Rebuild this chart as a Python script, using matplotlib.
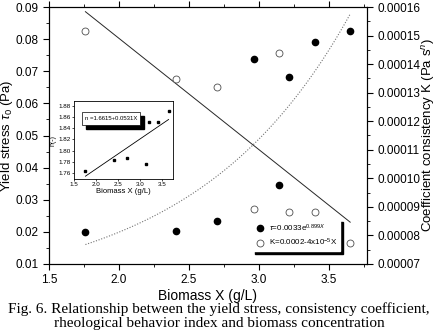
import numpy as np
import matplotlib.pyplot as plt
from matplotlib.ticker import MultipleLocator

plt.rcParams['font.family'] = ['Liberation Sans', 'DejaVu Sans']
plt.rcParams['mathtext.fontset'] = 'custom'
plt.rcParams['mathtext.rm'] = 'Liberation Sans'
plt.rcParams['mathtext.it'] = 'Liberation Sans:italic'

# biomass concentrations (g/L)
biomass = [1.76, 2.41, 2.70, 2.96, 3.14, 3.21, 3.40, 3.65]
# yield stress tau0 (Pa), left axis
yield_stress = [0.0199, 0.0203, 0.0233, 0.0738, 0.0346, 0.0682, 0.0791, 0.0825]
# consistency coefficient K (Pa s^n), right axis
consistency = [0.0001516, 0.0001348, 0.0001320, 0.0000893, 0.0001439,
               0.0000882, 0.0000882, 0.0000774]

# flow behaviour index n (inset)
n_biomass = [1.76, 2.41, 2.70, 3.14, 3.21, 3.40, 3.65]
n_index = [1.765, 1.784, 1.787, 1.776, 1.851, 1.851, 1.870]

# fitted models
tau_A, tau_b = 0.0033, 0.899
K_a, K_b = 0.000227, -3.9e-5
n_a, n_b = 1.6615, 0.0531

fig = plt.figure(figsize=(4.38, 3.32), dpi=100)
ax = fig.add_axes([49/438, 1-264/332, 318/438, 257/332])
ax2 = ax.twinx()

xf = np.linspace(min(biomass), max(biomass), 100)

# yield stress: filled circles + exponential fit (dotted)
ax.plot(xf, tau_A*np.exp(tau_b*xf), ls=(0, (1, 1.5)), color='0.45', lw=0.8)
l1, = ax.plot(biomass, yield_stress, 'o', color='k', ms=4.5, ls='none')

# consistency: open circles + linear fit
ax2.plot(xf, K_a + K_b*xf, '-', color='0.15', lw=0.7)
l2, = ax2.plot(biomass, consistency, 'o', mfc='white', mec='0.3', mew=0.6,
               ms=5, ls='none')

ax.set_xlim(1.5, 3.77)
ax.set_ylim(0.01, 0.09)
ax2.set_ylim(0.00007, 0.00016)
ax.xaxis.set_major_locator(MultipleLocator(0.5))
ax.xaxis.set_minor_locator(MultipleLocator(0.25))
ax.yaxis.set_major_locator(MultipleLocator(0.01))
ax.yaxis.set_minor_locator(MultipleLocator(0.005))
ax2.yaxis.set_major_locator(MultipleLocator(0.00001))
ax2.yaxis.set_minor_locator(MultipleLocator(0.000005))
ax2.yaxis.set_major_formatter(plt.FuncFormatter(lambda v, p: f'{v:.5f}'))
ax.yaxis.set_major_formatter(plt.FuncFormatter(lambda v, p: f'{v:.2f}'))

ax.tick_params(axis='x', which='both', direction='out', top=True, labelsize=8.5)
ax.tick_params(axis='x', which='major', length=4)
ax.tick_params(axis='x', which='minor', length=2)
ax.tick_params(axis='y', which='major', direction='out', length=4, labelsize=8.5)
ax.tick_params(axis='y', which='minor', direction='out', length=2)
ax2.tick_params(axis='y', which='major', direction='out', length=4, labelsize=8.5)
ax2.tick_params(axis='y', which='minor', direction='out', length=2)
for a in (ax, ax2):
    for s in a.spines.values():
        s.set_linewidth(0.8)

ax.set_xlabel('Biomass X (g/L)', fontsize=10, labelpad=2)
ax.set_ylabel(r'Yield stress $\tau_0$ (Pa)', fontsize=9.5)
ax.yaxis.set_label_coords(-0.108, 0.5)
ax2.set_ylabel(r'Coefficient consistency K (Pa s$^n$)', fontsize=9.5)
ax2.yaxis.set_label_coords(1.166, 0.5)

leg = ax2.legend([l1, l2], [r'$\tau$=0.0033e$^{0.899X}$', r'K=0.0002-4x10$^{-5}$X'],
                 loc='lower left', bbox_to_anchor=(0.64, 0.05), fontsize=5.8,
                 frameon=True, fancybox=False, edgecolor='white',
                 shadow={'color': 'black', 'alpha': 1}, handlelength=1.0,
                 handletextpad=0.6, borderpad=0.4, labelspacing=0.35,
                 borderaxespad=0)

# inset: flow behaviour index
ins = fig.add_axes([74/438, 1-179/332, 99/438, 78/332])
ins.plot(n_biomass, n_index, 's', color='k', ms=1.8)
xn = np.linspace(min(n_biomass), max(n_biomass), 50)
ins.plot(xn, n_a + n_b*xn, '-', color='k', lw=0.6)
ins.set_xlim(1.5, 3.75)
ins.set_ylim(1.75, 1.888)
ins.xaxis.set_major_locator(MultipleLocator(0.5))
ins.yaxis.set_major_locator(MultipleLocator(0.02))
ins.yaxis.set_major_formatter(plt.FuncFormatter(lambda v, p: f'{v:.2f}'))
ins.tick_params(labelsize=4.5, length=1.5, width=0.5, pad=1)
for s in ins.spines.values():
    s.set_linewidth(0.6)
ins.set_xlabel('Biomass X (g/L)', fontsize=5.5, labelpad=0.5)
ins.set_ylabel('n(-)', fontsize=5, labelpad=1)
# inset legend box with black drop shadow
ins.add_patch(plt.Rectangle((0.12, 0.64), 0.59, 0.17, transform=ins.transAxes,
                            color='k', zorder=3))
ins.add_patch(plt.Rectangle((0.08, 0.69), 0.59, 0.17, transform=ins.transAxes,
                            fc='white', ec='k', lw=0.5, zorder=4))
ins.text(0.375, 0.775, 'n =1.6615+0.0531X', transform=ins.transAxes,
         fontsize=4.3, va='center', ha='center', zorder=5)

fig.text(0.5, 1-309/332, 'Fig. 6. Relationship between the yield stress, consistency coefficient,',
         ha='center', va='center', fontsize=11, family='Liberation Serif')
fig.text(0.5, 1-323/332, 'rheological behavior index and biomass concentration',
         ha='center', va='center', fontsize=11, family='Liberation Serif')

fig.savefig('out.png', dpi=100)
